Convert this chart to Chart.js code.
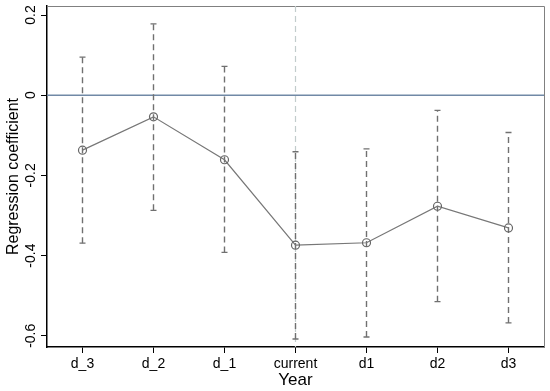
<!DOCTYPE HTML>
<html>

<head>
    <meta charset="UTF-8">
    <title>Regression coefficient by year</title>
    <script src="https://cdn.jsdelivr.net/npm/chart.js"></script>
    <style>
        html, body { margin: 0; padding: 0; background: #fff; }
        #wrap { width: 550px; height: 391px; }
    </style>
</head>

<body>
    <div id="wrap"><canvas id="myChart"></canvas></div>
    <script>
        var years = ['d_3', 'd_2', 'd_1', 'current', 'd1', 'd2', 'd3'];
        var coef = [-0.137, -0.054, -0.161, -0.374, -0.368, -0.277, -0.331];
        var ciLow = [-0.369, -0.287, -0.392, -0.608, -0.603, -0.515, -0.568];
        var ciHigh = [0.095, 0.178, 0.072, -0.141, -0.134, -0.038, -0.093];
        var yTicks = [-0.6, -0.4, -0.2, 0, 0.2];
        var refYear = 'current';

        // each interval as two points, separated by a gap
        var ciData = [];
        years.forEach(function (yr, i) {
            ciData.push({ x: yr, y: ciLow[i] });
            ciData.push({ x: yr, y: ciHigh[i] });
            ciData.push({ x: yr, y: null });
        });

        var refLines = {
            id: 'refLines',
            beforeDatasetsDraw: function (chart) {
                var ctx = chart.ctx, a = chart.chartArea;
                var xs = chart.scales.x, ys = chart.scales.y;
                ctx.save();
                // top / right frame
                ctx.strokeStyle = '#808080';
                ctx.lineWidth = 1;
                ctx.beginPath();
                ctx.moveTo(a.left, a.top + 0.5);
                ctx.lineTo(a.right + 0.5, a.top + 0.5);
                ctx.lineTo(a.right + 0.5, a.bottom);
                ctx.stroke();
                // zero line
                var y0 = ys.getPixelForValue(0);
                ctx.strokeStyle = '#7189a6';
                ctx.lineWidth = 1.5;
                ctx.beginPath();
                ctx.moveTo(a.left, y0);
                ctx.lineTo(a.right, y0);
                ctx.stroke();
                // reference year
                var xr = xs.getPixelForValue(years.indexOf(refYear));
                ctx.strokeStyle = '#c2cccc';
                ctx.lineWidth = 1.2;
                ctx.setLineDash([6, 4]);
                ctx.beginPath();
                ctx.moveTo(xr, a.top);
                ctx.lineTo(xr, a.bottom);
                ctx.stroke();
                ctx.restore();
            }
        };

        var ctx = document.getElementById('myChart').getContext('2d');
        var chart = new Chart(ctx, {
            type: 'line',
            data: {
                labels: years,
                datasets: [{
                    label: 'Coefficient',
                    data: coef,
                    borderColor: '#777777',
                    borderWidth: 1.2,
                    pointStyle: 'circle',
                    pointRadius: 4,
                    pointBorderWidth: 1.2,
                    pointBorderColor: '#666666',
                    pointBackgroundColor: 'rgba(0,0,0,0)',
                    fill: false,
                    tension: 0,
                    order: 1
                }, {
                    label: 'CI',
                    data: ciData,
                    borderColor: '#707070',
                    borderWidth: 1.4,
                    borderDash: [6, 4],
                    spanGaps: false,
                    pointStyle: 'line',
                    pointRadius: 3,
                    pointBorderWidth: 1.3,
                    pointBorderColor: '#707070',
                    fill: false,
                    order: 2
                }]
            },
            options: {
                responsive: true,
                maintainAspectRatio: false,
                animation: false,
                layout: { padding: { left: 0, right: 6, top: 6, bottom: 0 } },
                plugins: {
                    legend: { display: false },
                    tooltip: { enabled: false }
                },
                scales: {
                    x: {
                        type: 'category',
                        offset: true,
                        grid: { drawOnChartArea: false, drawTicks: true, tickLength: 6, color: '#000', offset: false },
                        border: { color: '#000', width: 1.5 },
                        ticks: { color: '#000', font: { family: 'Liberation Sans', size: 14 }, padding: 3, maxRotation: 0 },
                        title: { display: true, text: 'Year', color: '#000', font: { family: 'Liberation Sans', size: 17, lineHeight: 1.2 }, padding: { top: 1, bottom: 0 } },
                        afterFit: function (s) { s.height = 44; s.paddingLeft = 0; s.paddingRight = 0; }
                    },
                    y: {
                        min: -0.628,
                        max: 0.2225,
                        grid: { drawOnChartArea: false, drawTicks: true, tickLength: 6, color: '#000' },
                        border: { color: '#000', width: 1.5 },
                        ticks: {
                            color: '#000',
                            font: { family: 'Liberation Sans', size: 14 },
                            padding: -2,
                            minRotation: 90,
                            maxRotation: 90,
                            crossAlign: 'center'
                        },
                        afterBuildTicks: function (s) {
                            s.ticks = yTicks.map(function (v) { return { value: v }; });
                        },
                        title: { display: true, text: 'Regression coefficient', color: '#000', font: { family: 'Liberation Sans', size: 16, lineHeight: 1.2 }, padding: { top: 4, bottom: 0 } },
                        afterFit: function (s) { s.width = 47; s.paddingTop = 0; s.paddingBottom = 0; }
                    }
                }
            },
            plugins: [refLines]
        });
    </script>
</body>

</html>
